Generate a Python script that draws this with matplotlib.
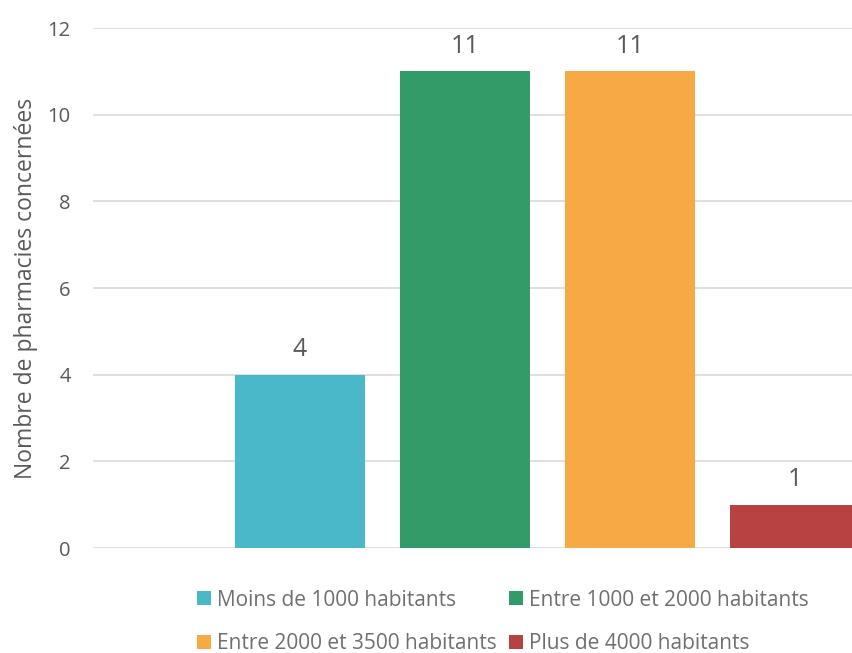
import numpy as np
import matplotlib.pyplot as plt

categories = ['Moins de 1000 habitants', 'Entre 1000 et 2000 habitants',
              'Entre 2000 et 3500 habitants', 'Plus de 4000 habitants']
values = [4, 11, 11, 1]
colors = ['#4BB8C9', '#339B68', '#F7A946', '#B84142']

plt.rcParams['font.family'] = ['Open Sans', 'DejaVu Sans']
grey = '#595959'

fig = plt.figure(figsize=(8.53, 6.53), dpi=100)
ax = fig.add_axes([93 / 853, 1 - 548 / 653, 1 - 93 / 853, (548 - 28) / 653])

pos = np.arange(len(values))
width = 130 / 165
handles = []
for i in range(len(values)):
    b = ax.bar(pos[i], values[i], width=width, color=colors[i], label=categories[i], zorder=3)
    handles.append(b)
    ax.annotate(str(values[i]), (pos[i], values[i]), xytext=(0, 9), textcoords='offset points',
                ha='center', va='bottom', fontsize=18, color=grey)

ax.set_xlim(-207 / 165, 553 / 165)
ax.set_ylim(0, 12)
ax.set_yticks(range(0, 13, 2))
ax.set_xticks([])
ax.yaxis.grid(True, color='#D9D9D9', linewidth=1.2, zorder=0)
for s in ax.spines.values():
    s.set_visible(False)
ax.tick_params(axis='y', length=0, labelsize=14.5, labelcolor=grey, pad=16)
ax.set_ylabel('Nombre de pharmacies concernées', fontsize=16.5, color=grey, labelpad=7)

# legend filled row by row, like the original
order = [0, 2, 1, 3]
fig.legend([handles[k] for k in order], [categories[k] for k in order],
           loc='center', bbox_to_anchor=(503 / 853, 1 - 622 / 653), ncol=2, frameon=False,
           fontsize=15, labelcolor='#6F6F6F', handlelength=0.65, handleheight=0.65,
           handletextpad=0.3, columnspacing=0.6, labelspacing=1.1, borderaxespad=0)

fig.savefig('out.png', dpi=100)
